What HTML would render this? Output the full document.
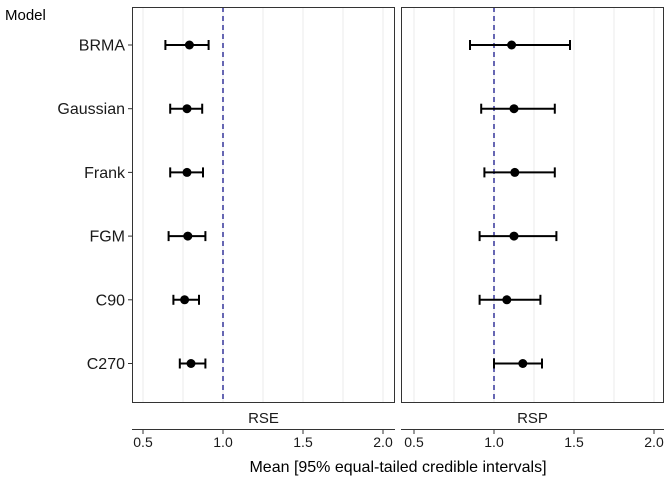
<!DOCTYPE html>
<html><head><meta charset="utf-8"><style>
body{margin:0;background:#fff;font-family:"Liberation Sans",sans-serif}
svg text{font-family:"Liberation Sans",sans-serif}
</style></head><body>
<svg id="c" width="672" height="480"></svg>
<script>
const models=["BRMA","Gaussian","Frank","FGM","C90","C270"];
const rseMean=[0.79,0.775,0.775,0.78,0.76,0.80];
const rseLow=[0.64,0.67,0.67,0.66,0.69,0.73];
const rseHigh=[0.91,0.87,0.875,0.89,0.85,0.89];
const rspMean=[1.11,1.125,1.13,1.125,1.08,1.18];
const rspLow=[0.85,0.92,0.94,0.91,0.91,1.0];
const rspHigh=[1.475,1.38,1.38,1.39,1.29,1.30];
const ticks=[0.5,1.0,1.5,2.0];
const tickLabels=["0.5","1.0","1.5","2.0"];
const grids=[0.75,1.25,1.75];
const panelNames=["RSE","RSP"];

const svg=document.getElementById('c');
const NS='http://www.w3.org/2000/svg';
function mk(t,a,p){const e=document.createElementNS(NS,t);for(const k in a)e.setAttribute(k,a[k]);(p||svg).appendChild(e);return e;}
const yTop=7,yBot=403;
const yPos=i=>45+i*63.7;
const panels=[{x0:132,x1:395,one:223,mean:rseMean,low:rseLow,high:rseHigh},{x0:401,x1:664,one:494,mean:rspMean,low:rspLow,high:rspHigh}];
panels.forEach((p,pi)=>{
  const X=v=>p.one+(v-1)*160;
  const g=mk('g',{});
  
  
  grids.concat(ticks).forEach(v=>{const x=X(v);if(x>p.x0&&x<p.x1)mk('line',{x1:x,x2:x,y1:yTop,y2:yBot,stroke:'#ebebeb','stroke-width':1},g);});
  const d=mk('line',{x1:X(1),x2:X(1),y1:yTop,y2:yBot,stroke:'#000080','stroke-width':1.2,'stroke-dasharray':'5,4'},g);
  
  
  models.forEach((m,i)=>{
    const y=yPos(i);
    const e=mk('g',{},g);
    
    
    mk('line',{x1:X(p.low[i]),x2:X(p.high[i]),y1:y,y2:y,stroke:'#000','stroke-width':2},e);
    mk('line',{x1:X(p.low[i]),x2:X(p.low[i]),y1:y-5,y2:y+5,stroke:'#000','stroke-width':2},e);
    mk('line',{x1:X(p.high[i]),x2:X(p.high[i]),y1:y-5,y2:y+5,stroke:'#000','stroke-width':2},e);
    mk('circle',{cx:X(p.mean[i]),cy:y,r:4.5,fill:'#000'},e);
  });
  mk('rect',{x:p.x0+0.5,y:yTop+0.5,width:p.x1-p.x0-1,height:yBot-yTop-1,fill:'none',stroke:'#333','stroke-width':1},g);
  const s=mk('text',{x:(p.x0+p.x1)/2,y:423,'text-anchor':'middle','font-size':15,fill:'#1a1a1a'},g);
  s.textContent=panelNames[pi];
  
  
  mk('line',{x1:p.x0,x2:p.x1,y1:429.5,y2:429.5,stroke:'#333','stroke-width':1},g);
  ticks.forEach((v,j)=>{const x=X(v);
    mk('line',{x1:x,x2:x,y1:430,y2:434,stroke:'#333'},g);
    const t=mk('text',{x:x,y:447,'text-anchor':'middle','font-size':14,fill:'#1a1a1a'},g);
    t.textContent=tickLabels[j];
    
    
  });
});
models.forEach((m,i)=>{
  const y=yPos(i);
  mk('line',{x1:128,x2:132,y1:y,y2:y,stroke:'#333'});
  const t=mk('text',{x:125,y:y+5.5,'text-anchor':'end','font-size':16,fill:'#1a1a1a'});
  t.textContent=m;
  
  
});
const yt=mk('text',{x:5,y:20,'font-size':15,fill:'#000'});yt.textContent='Model';


const xt=mk('text',{x:398,y:472,'text-anchor':'middle','font-size':16,fill:'#000'});xt.textContent='Mean [95% equal-tailed credible intervals]';


</script>
</body></html>
